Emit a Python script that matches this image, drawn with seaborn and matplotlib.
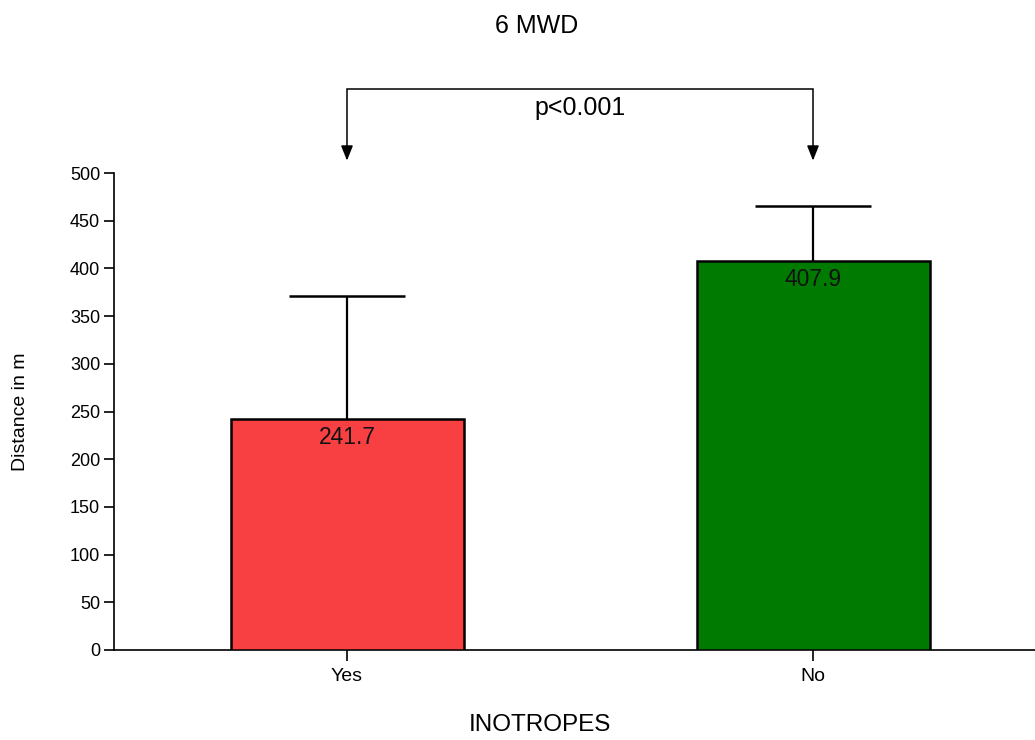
import matplotlib
matplotlib.use("Agg")
import matplotlib.pyplot as plt
import seaborn as sns
import pandas as pd
import numpy as np

categories = ["Yes", "No"]
means = [241.7, 407.9]
sd_upper = [129.0, 57.5]
bar_colors = ["#F84042", "#007A00"]
y_ticks = [0, 50, 100, 150, 200, 250, 300, 350, 400, 450, 500]
title_text = "6 MWD"
p_text = "p<0.001"
x_label = "INOTROPES"
y_label = "Distance in m"

sns.set_theme(style="white")
plt.rcParams["font.family"] = ["Liberation Sans", "DejaVu Sans"]

W, H = 1035, 740
fig = plt.figure(figsize=(W / 100, H / 100), dpi=100)
left_px, right_px, bottom_px, top_px = 114, 1046, 650, 173
ax = fig.add_axes([left_px / W, 1 - bottom_px / H, (right_px - left_px) / W, (bottom_px - top_px) / H])

df = pd.DataFrame({"group": categories, "mean": means})
sns.barplot(data=df, x="group", y="mean", hue="group", palette=bar_colors,
            saturation=1, width=0.5, edgecolor="black", linewidth=1.8, errorbar=None,
            legend=False, ax=ax, zorder=3)

xs = np.arange(len(categories))
tops = np.array(means) + np.array(sd_upper)
cap_half = 0.125
ax.vlines(xs, means, tops, colors="black", linewidth=1.6, zorder=2)
ax.hlines(tops, xs - cap_half, xs + cap_half, colors="black", linewidth=1.8, zorder=2)

for x, m in zip(xs, means):
    ax.text(x, m - 7, f"{m:.1f}", ha="center", va="top", fontsize=16.5, color="#111111", zorder=5)

ax.set_xlim(-0.5, 1.5)
ax.set_ylim(0, 500)
ax.set_yticks(y_ticks)
ax.set_yticklabels([str(t) for t in y_ticks], fontsize=13)
ax.set_xticks(xs)
ax.set_xticklabels(categories, fontsize=14)
ax.set_xlabel("")
ax.set_ylabel("")
for s in ["top", "right"]:
    ax.spines[s].set_visible(False)
for s in ["left", "bottom"]:
    ax.spines[s].set_color("black")
    ax.spines[s].set_linewidth(1.2)
ax.tick_params(axis="y", direction="out", length=7, width=1.2, color="black",
               left=True, pad=3, labelcolor="black")
ax.tick_params(axis="x", direction="out", length=8, width=1.2, color="black",
               bottom=True, pad=5, labelcolor="black")

# significance bracket
y_br, y_tip = 588, 513
ax.plot([0, 0, 1, 1], [y_tip + 10, y_br, y_br, y_tip + 10], color="black", lw=1.1,
        clip_on=False, solid_joinstyle="miter")
for x in xs:
    ax.annotate("", xy=(x, y_tip), xytext=(x, y_tip + 12), annotation_clip=False,
                arrowprops=dict(arrowstyle="-|>,head_length=0.75,head_width=0.3",
                                color="black", lw=1.1, shrinkA=0, shrinkB=0))
ax.text(0.5, 568, p_text, ha="center", va="center", fontsize=18, color="black", clip_on=False)

fig.text(537 / W, 1 - 26 / H, title_text, ha="center", va="center", fontsize=18, color="black")
fig.text(540 / W, 1 - 725 / H, x_label, ha="center", va="center", fontsize=17.5, color="black")
fig.text(21 / W, 1 - 412 / H, y_label, ha="center", va="center", rotation=90, fontsize=14, color="black")

fig.savefig("out.png", dpi=100, facecolor="white")
